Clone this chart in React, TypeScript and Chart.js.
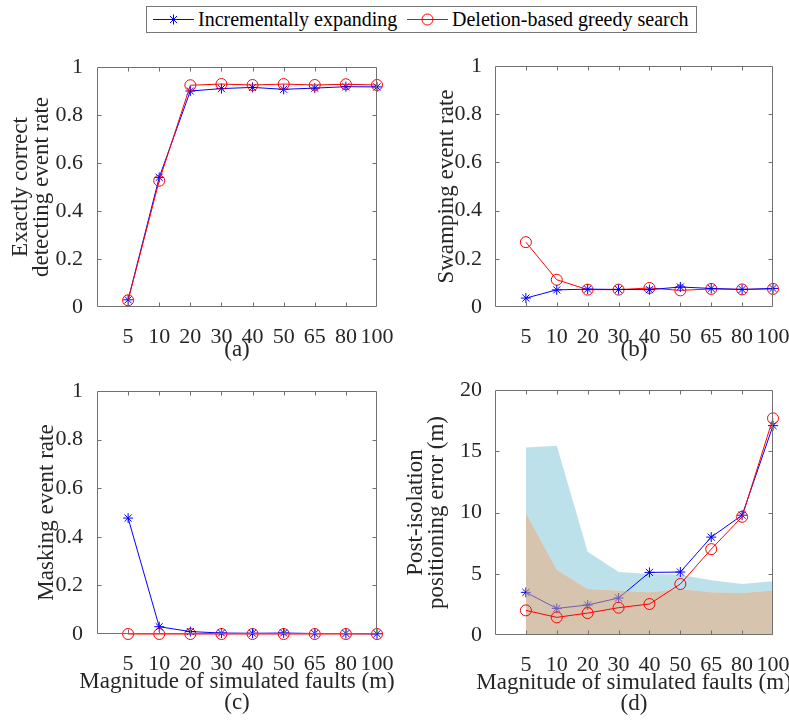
import React, { useEffect, useRef } from 'react';
import { Chart, registerables } from 'chart.js';

Chart.register(...registerables);

// ---------------- data ----------------
const CATEGORIES = ['5', '10', '20', '30', '40', '50', '65', '80', '100'];

const SERIES_INC = 'Incrementally expanding';
const SERIES_DEL = 'Deletion-based greedy search';

const A_INC = [0.03, 0.54, 0.9, 0.91, 0.915, 0.907, 0.912, 0.918, 0.917];
const A_DEL = [0.028, 0.526, 0.924, 0.929, 0.925, 0.929, 0.925, 0.928, 0.925];

const B_INC = [0.037, 0.071, 0.074, 0.073, 0.072, 0.083, 0.077, 0.073, 0.077];
const B_DEL = [0.269, 0.113, 0.072, 0.072, 0.079, 0.069, 0.075, 0.073, 0.075];

const C_INC = [0.477, 0.03, 0.01, 0.004, 0.003, 0.004, 0.002, 0.002, 0.001];
const C_DEL = [0, 0, 0, 0, 0, 0, 0, 0, 0];

const D_INC = [3.48, 2.17, 2.45, 3.02, 5.11, 5.14, 7.99, 9.78, 17.09];
const D_DEL = [2.01, 1.44, 1.79, 2.23, 2.53, 4.16, 7.01, 9.65, 17.69];
const D_BAND_UPPER = [15.3, 15.45, 6.8, 5.15, 4.97, 4.92, 4.46, 4.16, 4.38];
const D_BAND_LOWER = [9.95, 5.33, 3.75, 3.64, 3.48, 3.75, 3.48, 3.42, 3.64];

const RATE_TICK_STEP = 0.2;
const ERR_TICK_STEP = 5;

// ---------------- styles ----------------
const FONT = '"Liberation Serif", "Times New Roman", Times, serif';
const TEXT_COLOR = '#262626';
const AXIS_COLOR = '#707070';
const BLUE = 'rgb(0,0,255)';
const RED = 'rgb(255,0,0)';
const LIGHT_BLUE = 'rgb(188,225,235)';
const TAN = 'rgba(187,157,122,0.6)';
const TICK_SIZE = 22;
const TITLE_SIZE = 23;
const TITLE_LH = 21;

const LABELS = ['', ...CATEGORIES];
const pad = (arr: number[]) => [null, ...arr];

const matlabBox = {
  id: 'matlabBox',
  afterDraw(chart: any, _args: any, opts: any) {
    const { ctx, chartArea: a, scales } = chart;
    const L = Math.round(a.left) + 0.5;
    const R = Math.round(a.right) - 0.5;
    const T = Math.round(a.top) + 0.5;
    const B = Math.round(a.bottom) - 0.5;
    const tl = 4;
    ctx.save();
    ctx.strokeStyle = AXIS_COLOR;
    ctx.lineWidth = 1;
    ctx.beginPath();
    ctx.rect(L, T, R - L, B - T);
    scales.y.ticks.forEach((t: any) => {
      const p = Math.round(scales.y.getPixelForValue(t.value)) + 0.5;
      if (p <= T + 1 || p >= B - 1) return;
      ctx.moveTo(L, p);
      ctx.lineTo(L + tl, p);
      ctx.moveTo(R, p);
      ctx.lineTo(R - tl, p);
    });
    scales.x.ticks.forEach((t: any, i: number) => {
      if (!t.label) return;
      const p = Math.round(scales.x.getPixelForTick(i)) + 0.5;
      if (p >= R - 1) return;
      ctx.moveTo(p, B);
      ctx.lineTo(p, B - tl);
      ctx.moveTo(p, T);
      ctx.lineTo(p, T + tl);
    });
    ctx.stroke();
    ctx.fillStyle = TEXT_COLOR;
    ctx.font = `${opts.size}px ${FONT}`;
    ctx.textAlign = 'center';
    ctx.textBaseline = 'middle';
    const cx = (a.left + a.right) / 2;
    (opts.lines || []).forEach((s: string, i: number) => {
      ctx.fillText(s, cx, a.bottom + opts.offset + i * opts.lineHeight);
    });
    ctx.restore();
  },
};

type PanelSpec = {
  datasets: any[];
  yMax: number;
  yStep: number;
  yTitle: string | string[];
  yTitlePad: number;
  yWidth: number;
  yTickPad: number;
  xHeight: number;
  xTitle: string[];
  xTitleOffset: number;
  padTop: number;
  padRight: number;
};

function lineDs(label: string, data: number[], kind: 'inc' | 'del', order: number) {
  const isInc = kind === 'inc';
  return {
    label,
    data: pad(data),
    borderColor: isInc ? BLUE : RED,
    backgroundColor: 'rgba(0,0,0,0)',
    borderWidth: 1,
    pointStyle: isInc ? 'star' : 'circle',
    pointRadius: isInc ? 5 : 5.5,
    pointBorderWidth: 1,
    pointBorderColor: isInc ? BLUE : RED,
    pointBackgroundColor: 'rgba(0,0,0,0)',
    fill: false,
    tension: 0,
    clip: false,
    order,
  };
}

function makeConfig(s: PanelSpec): any {
  return {
    type: 'line',
    data: { labels: LABELS, datasets: s.datasets },
    plugins: [matlabBox],
    options: {
      responsive: false,
      animation: false,
      events: [],
      layout: { padding: { top: s.padTop, right: s.padRight, left: 0, bottom: 0 } },
      plugins: {
        legend: { display: false },
        tooltip: { enabled: false },
        matlabBox: { lines: s.xTitle, offset: s.xTitleOffset, lineHeight: TITLE_LH, size: TITLE_SIZE },
      },
      scales: {
        x: {
          type: 'category',
          offset: false,
          grid: { display: false },
          border: { display: false },
          ticks: {
            autoSkip: false,
            maxRotation: 0,
            minRotation: 0,
            padding: 8.8,
            color: TEXT_COLOR,
            font: { family: FONT, size: TICK_SIZE, lineHeight: 1.2 },
          },
          afterFit: (sc: any) => {
            sc.height = s.xHeight;
            sc.paddingLeft = 0;
            sc.paddingRight = 0;
          },
        },
        y: {
          type: 'linear',
          min: 0,
          max: s.yMax,
          grid: { display: false },
          border: { display: false },
          ticks: {
            stepSize: s.yStep,
            padding: s.yTickPad,
            color: TEXT_COLOR,
            font: { family: FONT, size: TICK_SIZE, lineHeight: 1.2 },
            callback: (v: any) => String(Number(Number(v).toFixed(2))),
          },
          title: {
            display: true,
            text: s.yTitle,
            color: TEXT_COLOR,
            font: { family: FONT, size: TITLE_SIZE, lineHeight: TITLE_LH / TITLE_SIZE },
            padding: { top: s.yTitlePad, bottom: 0 },
          },
          afterFit: (sc: any) => {
            sc.width = s.yWidth;
            sc.paddingTop = 0;
            sc.paddingBottom = 0;
          },
        },
      },
    },
  };
}

function Panel(props: { left: number; top: number; width: number; height: number; spec: PanelSpec }) {
  const ref = useRef<HTMLCanvasElement | null>(null);
  useEffect(() => {
    if (!ref.current) return;
    const chart = new Chart(ref.current, makeConfig(props.spec));
    return () => chart.destroy();
  }, []);
  return (
    <canvas
      ref={ref}
      width={props.width}
      height={props.height}
      style={{
        position: 'absolute',
        left: props.left,
        top: props.top,
        width: props.width,
        height: props.height,
      }}
    />
  );
}

const specA: PanelSpec = {
  datasets: [lineDs(SERIES_DEL, A_DEL, 'del', 0), lineDs(SERIES_INC, A_INC, 'inc', 1)],
  yMax: 1,
  yStep: RATE_TICK_STEP,
  yTitle: ['Exactly correct', 'detecting event rate'],
  yTitlePad: 10,
  yWidth: 97,
  yTickPad: 6,
  xHeight: 63,
  xTitle: ['(a)'],
  xTitleOffset: 43,
  padTop: 17,
  padRight: 23,
};

const specB: PanelSpec = {
  datasets: [lineDs(SERIES_INC, B_INC, 'inc', 0), lineDs(SERIES_DEL, B_DEL, 'del', 1)],
  yMax: 1,
  yStep: RATE_TICK_STEP,
  yTitle: 'Swamping event rate',
  yTitlePad: 36,
  yWidth: 95,
  yTickPad: 5,
  xHeight: 63,
  xTitle: ['(b)'],
  xTitleOffset: 43,
  padTop: 16,
  padRight: 16,
};

const specC: PanelSpec = {
  datasets: [lineDs(SERIES_INC, C_INC, 'inc', 0), lineDs(SERIES_DEL, C_DEL, 'del', 1)],
  yMax: 1,
  yStep: RATE_TICK_STEP,
  yTitle: 'Masking event rate',
  yTitlePad: 36,
  yWidth: 97,
  yTickPad: 6,
  xHeight: 90,
  xTitle: ['Magnitude of simulated faults (m)', '(c)'],
  xTitleOffset: 48,
  padTop: 11,
  padRight: 23,
};

const specD: PanelSpec = {
  datasets: [
    lineDs(SERIES_DEL, D_DEL, 'del', 0),
    {
      label: 'lower band',
      data: pad(D_BAND_LOWER),
      borderWidth: 0,
      borderColor: 'rgba(0,0,0,0)',
      backgroundColor: TAN,
      pointRadius: 0,
      fill: 'origin',
      tension: 0,
      clip: false,
      order: 1,
    },
    lineDs(SERIES_INC, D_INC, 'inc', 2),
    {
      label: 'upper band',
      data: pad(D_BAND_UPPER),
      borderWidth: 0,
      borderColor: 'rgba(0,0,0,0)',
      backgroundColor: LIGHT_BLUE,
      pointRadius: 0,
      fill: 1,
      tension: 0,
      clip: false,
      order: 3,
    },
  ],
  yMax: 20,
  yStep: ERR_TICK_STEP,
  yTitle: ['Post-isolation', 'positioning error (m)'],
  yTitlePad: 5,
  yWidth: 95,
  yTickPad: 5,
  xHeight: 89,
  xTitle: ['Magnitude of simulated faults (m)', '(d)'],
  xTitleOffset: 47.5,
  padTop: 10,
  padRight: 16,
};

function Legend() {
  const textStyle: React.CSSProperties = {
    position: 'absolute',
    top: 6,
    height: 26,
    lineHeight: '26px',
    fontFamily: FONT,
    fontSize: 20,
    color: '#000',
    whiteSpace: 'nowrap',
  };
  const r = 5;
  const d = r * 0.7071;
  return (
    <>
      <div
        style={{
          position: 'absolute',
          left: 146,
          top: 6,
          width: 551,
          height: 27,
          boxSizing: 'border-box',
          border: '1px solid #777',
          background: '#fff',
        }}
      />
      <svg style={{ position: 'absolute', left: 150, top: 9, width: 48, height: 20 }} width={48} height={20}>
        <line x1={3} y1={10.5} x2={44} y2={10.5} stroke={BLUE} strokeWidth={1} />
        <g stroke={BLUE} strokeWidth={1}>
          <line x1={23.5 - r} y1={10.5} x2={23.5 + r} y2={10.5} />
          <line x1={23.5} y1={10.5 - r} x2={23.5} y2={10.5 + r} />
          <line x1={23.5 - d} y1={10.5 - d} x2={23.5 + d} y2={10.5 + d} />
          <line x1={23.5 - d} y1={10.5 + d} x2={23.5 + d} y2={10.5 - d} />
        </g>
      </svg>
      <span style={{ ...textStyle, left: 198 }}>{SERIES_INC}</span>
      <svg style={{ position: 'absolute', left: 404, top: 9, width: 48, height: 20 }} width={48} height={20}>
        <line x1={3} y1={10.5} x2={44} y2={10.5} stroke={RED} strokeWidth={1} />
        <circle cx={23.5} cy={10.5} r={5.5} fill="none" stroke={RED} strokeWidth={1} />
      </svg>
      <span style={{ ...textStyle, left: 452 }}>{SERIES_DEL}</span>
    </>
  );
}

export default function App() {
  return (
    <div
      style={{
        position: 'fixed',
        left: 0,
        top: 0,
        width: 789,
        height: 724,
        background: '#fff',
        overflow: 'hidden',
      }}
    >
      <Legend />
      <Panel left={0} top={50} width={400} height={320} spec={specA} />
      <Panel left={400} top={50} width={389} height={320} spec={specB} />
      <Panel left={0} top={380} width={400} height={344} spec={specC} />
      <Panel left={400} top={380} width={389} height={344} spec={specD} />
    </div>
  );
}
